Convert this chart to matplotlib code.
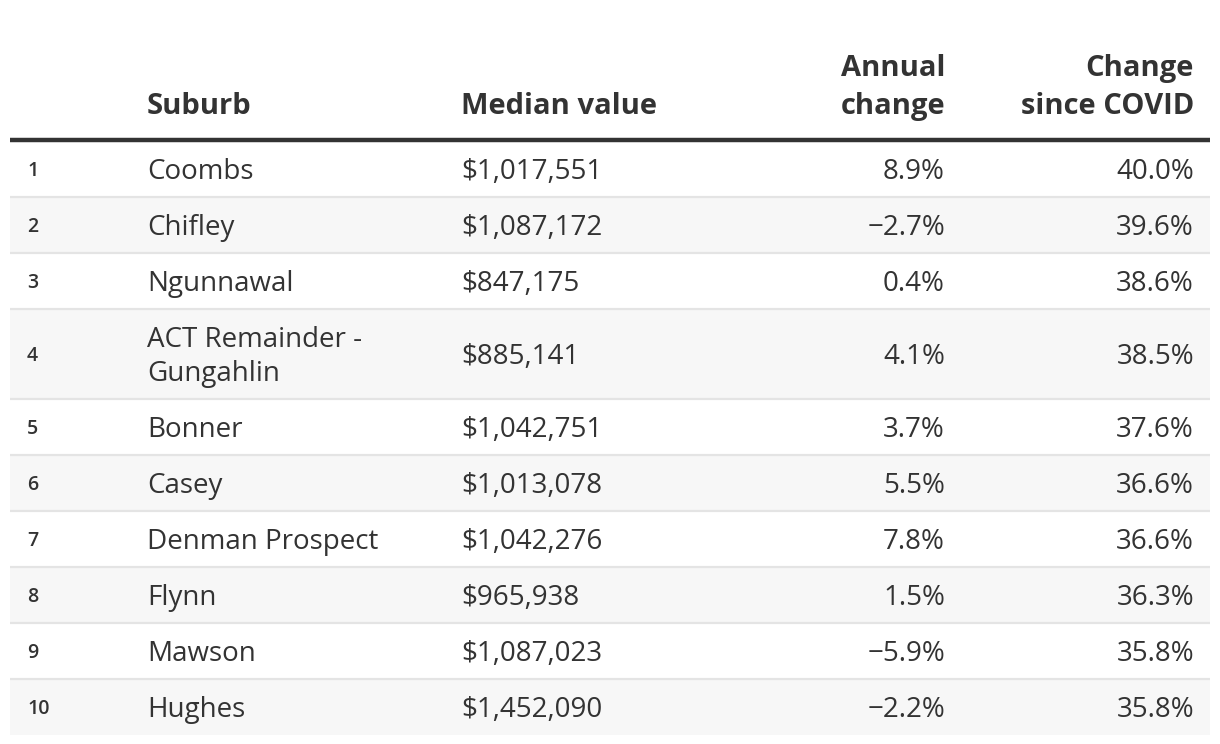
import matplotlib
matplotlib.use("Agg")
import matplotlib.pyplot as plt
from matplotlib.patches import Rectangle

ranks = ["1", "2", "3", "4", "5", "6", "7", "8", "9", "10"]
suburbs = ["Coombs", "Chifley", "Ngunnawal", "ACT Remainder -\nGungahlin", "Bonner",
           "Casey", "Denman Prospect", "Flynn", "Mawson", "Hughes"]
median_values = ["$1,017,551", "$1,087,172", "$847,175", "$885,141", "$1,042,751",
                 "$1,013,078", "$1,042,276", "$965,938", "$1,087,023", "$1,452,090"]
annual_change = ["8.9%", "\u22122.7%", "0.4%", "4.1%", "3.7%",
                 "5.5%", "7.8%", "1.5%", "\u22125.9%", "\u22122.2%"]
covid_change = ["40.0%", "39.6%", "38.6%", "38.5%", "37.6%",
                "36.6%", "36.6%", "36.3%", "35.8%", "35.8%"]
headers = ["", "Suburb", "Median value", "Annual\nchange", "Change\nsince COVID"]

FONT = "Open Sans"
TXT = "#333333"

fig = plt.figure(figsize=(12.2, 7.44), dpi=100)
ax = fig.add_axes([0, 0, 1, 1])
ax.set_xlim(0, 1220)
ax.set_ylim(744, 0)
ax.axis("off")

left, right = 10, 1210
col_x = [27, 147, 461, 945, 1194]
col_ha = ["left", "left", "left", "right", "right"]

# headers
for x, ha, h in zip(col_x, col_ha, headers):
    lines = h.split("\n") if h else []
    n = len(lines)
    for k, line in enumerate(lines):
        ax.text(x, 114 - 38 * (n - 1 - k), line, ha=ha, va="baseline", fontsize=21,
                fontweight="bold", family=FONT, color=TXT)

# rows
y = 141
for i in range(len(ranks)):
    nlines = suburbs[i].count("\n") + 1
    h = 56 if nlines == 1 else 90
    if i % 2 == 1:
        ax.add_patch(Rectangle((left, y), right - left, h, facecolor="#f7f7f7",
                               edgecolor="none", zorder=0))
    if i < len(ranks) - 1:
        ax.plot([left, right], [y + h, y + h], color="#e4e4e4", lw=1.6, zorder=1,
                solid_capstyle="butt")
    cy = y + h / 2
    ax.text(col_x[0], cy + 7, ranks[i], ha="left", va="baseline", fontsize=14,
            fontweight="semibold", family=FONT, color=TXT)
    sub_lines = suburbs[i].split("\n")
    for k, line in enumerate(sub_lines):
        ly = cy + (k - (len(sub_lines) - 1) / 2) * 34
        ax.text(col_x[1], ly + 10, line, ha="left", va="baseline", fontsize=20,
                family=FONT, color=TXT)
    for c, vals in zip(range(2, 5), [median_values, annual_change, covid_change]):
        ax.text(col_x[c], cy + 10, vals[i], ha=col_ha[c], va="baseline", fontsize=20,
                family=FONT, color=TXT)
    y += h

ax.plot([left, right], [139.5, 139.5], color="#333333", lw=3.2, zorder=2,
        solid_capstyle="butt")

fig.savefig("out.png", dpi=100, facecolor="white")
